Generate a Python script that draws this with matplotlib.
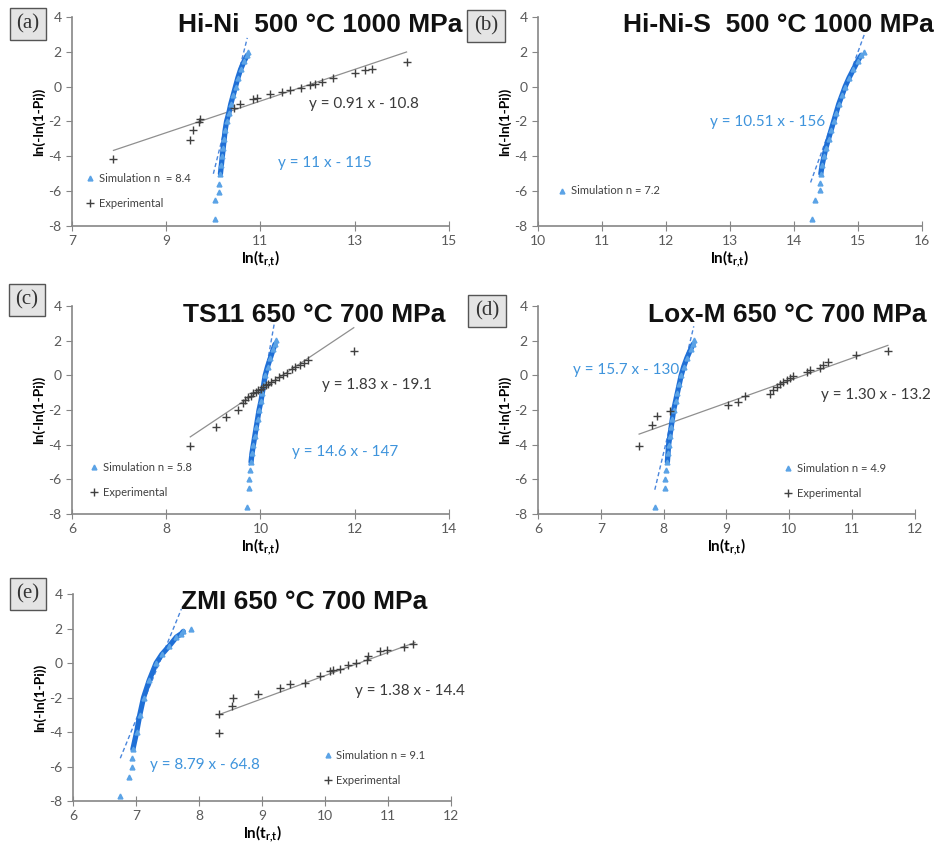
import numpy as np
import matplotlib
matplotlib.use('Agg')
import matplotlib.pyplot as plt

plt.rcParams['axes.unicode_minus'] = False

# --- data ---
# (a) Hi-Ni 500 C 1000 MPa
sim_a_x = [10.15, 10.17, 10.19, 10.21, 10.23, 10.25, 10.28, 10.33, 10.37, 10.42, 10.47, 10.52, 10.58, 10.66, 10.72]
sim_a_y = [-5.0, -4.5, -4.0, -3.5, -3.0, -2.5, -2.0, -1.5, -1.0, -0.5, 0.0, 0.5, 1.0, 1.5, 1.8]
tail_a_x = [10.04, 10.04, 10.11, 10.11, 10.74]
tail_a_y = [-7.62, -6.53, -6.05, -5.57, 2.0]
exp_a_x = [7.88, 9.51, 9.56, 9.70, 9.72, 10.43, 10.57, 10.85, 10.92, 11.20, 11.45, 11.63, 11.87,
           12.05, 12.16, 12.30, 12.54, 13.00, 13.21, 13.36, 14.10]
exp_a_y = [-4.13, -3.04, -2.47, -2.03, -1.84, -1.21, -0.98, -0.71, -0.63, -0.44, -0.33, -0.21, -0.06,
           0.08, 0.17, 0.27, 0.52, 0.78, 0.98, 1.03, 1.42]
simfit_a_x = [10.0, 10.72]
simfit_a_y = [-5.0, 2.8]
expfit_a_x = [7.88, 14.10]
expfit_a_y = [-3.66, 1.99]

# (b) Hi-Ni-S 500 C 1000 MPa
sim_b_x = [14.42, 14.44, 14.47, 14.50, 14.54, 14.58, 14.62, 14.66, 14.70, 14.75, 14.80, 14.86, 14.93, 15.00, 15.05]
sim_b_y = [-5.0, -4.5, -4.0, -3.5, -3.0, -2.5, -2.0, -1.5, -1.0, -0.5, 0.0, 0.5, 1.0, 1.5, 1.8]
tail_b_x = [14.28, 14.33, 14.40, 14.41, 15.10]
tail_b_y = [-7.62, -6.49, -5.95, -5.53, 2.0]
simfit_b_x = [14.26, 15.10]
simfit_b_y = [-5.5, 3.0]

# (c) TS11 650 C 700 MPa
sim_c_x = [9.80, 9.82, 9.85, 9.88, 9.91, 9.94, 9.97, 10.01, 10.04, 10.07, 10.10, 10.15, 10.21, 10.27, 10.31]
sim_c_y = [-5.0, -4.5, -4.0, -3.5, -3.0, -2.5, -2.0, -1.5, -1.0, -0.5, 0.0, 0.5, 1.0, 1.5, 1.8]
tail_c_x = [9.71, 9.75, 9.75, 9.78, 10.33]
tail_c_y = [-7.62, -6.48, -6.0, -5.47, 2.02]
exp_c_x = [8.51, 9.05, 9.27, 9.52, 9.62, 9.68, 9.74, 9.79, 9.84, 9.90, 9.95, 10.01, 10.06, 10.12, 10.17,
           10.22, 10.31, 10.39, 10.48, 10.57, 10.66, 10.74, 10.83, 10.92, 11.00, 11.98]
exp_c_y = [-4.08, -2.97, -2.39, -2.01, -1.58, -1.40, -1.27, -1.18, -1.02, -0.96, -0.84, -0.79, -0.66, -0.57, -0.51,
           -0.40, -0.27, -0.12, 0.02, 0.16, 0.34, 0.47, 0.59, 0.73, 0.88, 1.41]
simfit_c_x = [9.76, 10.30]
simfit_c_y = [-5.2, 3.1]
expfit_c_x = [8.51, 11.98]
expfit_c_y = [-3.55, 2.75]

# (d) Lox-M 650 C 700 MPa
sim_d_x = [8.06, 8.07, 8.08, 8.10, 8.12, 8.14, 8.16, 8.19, 8.22, 8.25, 8.28, 8.32, 8.37, 8.43, 8.47]
sim_d_y = [-5.0, -4.5, -4.0, -3.5, -3.0, -2.5, -2.0, -1.5, -1.0, -0.5, 0.0, 0.5, 1.0, 1.5, 1.8]
tail_d_x = [7.87, 8.02, 8.03, 8.04, 8.48]
tail_d_y = [-7.62, -6.48, -6.0, -5.47, 2.02]
exp_d_x = [7.61, 7.81, 7.90, 8.10, 9.03, 9.19, 9.29, 9.69, 9.74, 9.80, 9.85, 9.90, 9.96, 10.01, 10.06,
           10.28, 10.33, 10.49, 10.54, 10.62, 11.07, 11.57]
exp_d_y = [-4.06, -2.87, -2.34, -2.07, -1.72, -1.53, -1.20, -1.08, -0.85, -0.66, -0.51, -0.37, -0.24, -0.13, -0.02,
           0.20, 0.29, 0.45, 0.58, 0.77, 1.16, 1.41]
simfit_d_x = [7.86, 8.48]
simfit_d_y = [-6.6, 2.83]
expfit_d_x = [7.61, 11.57]
expfit_d_y = [-3.39, 1.73]

# (e) ZMI 650 C 700 MPa
sim_e_x = [6.95, 7.01, 7.06, 7.12, 7.21, 7.32, 7.41, 7.53, 7.64, 7.72, 7.75]
sim_e_y = [-5.0, -4.0, -3.0, -2.0, -1.0, 0.0, 0.5, 1.0, 1.5, 1.7, 1.83]
tail_e_x = [6.75, 6.89, 6.93, 6.94, 7.87]
tail_e_y = [-7.69, -6.59, -6.0, -5.52, 1.97]
exp_e_x = [8.31, 8.31, 8.52, 8.54, 8.94, 9.29, 9.44, 9.68, 9.92, 10.08, 10.13, 10.24, 10.37, 10.50,
           10.66, 10.69, 10.88, 10.98, 11.25, 11.40]
exp_e_y = [-4.07, -2.95, -2.52, -2.04, -1.79, -1.46, -1.21, -1.17, -0.74, -0.49, -0.39, -0.34, -0.10, -0.01,
           0.19, 0.38, 0.67, 0.77, 0.92, 1.12]
simfit_e_x = [6.75, 7.72]
simfit_e_y = [-5.52, 3.13]
expfit_e_x = [8.31, 11.43]
expfit_e_y = [-3.0, 1.19]

BLUE_DARK = '#1f6fd6'
BLUE = '#5ba3e6'
BLUE_TXT = '#3f94dc'
GRAY = '#868686'

fig = plt.figure(figsize=(9.4, 8.44), dpi=100)


def panel(rect, xlim, xticks, sim, tail, simfit, simlabel, exp=None, expfit=None,
          sim_eq=None, exp_eq=None, leg_anchor=(0.02, 0.05)):
    ax = fig.add_axes(rect)
    ax.set_xlim(*xlim)
    ax.set_ylim(-8, 4)
    ax.set_xticks(xticks)
    ax.set_yticks(np.arange(-8, 5, 2))
    for s in ('top', 'right'):
        ax.spines[s].set_visible(False)
    for s in ('left', 'bottom'):
        ax.spines[s].set_color(GRAY)
        ax.spines[s].set_linewidth(1.2)
    ax.tick_params(axis='x', direction='inout', length=7, color=GRAY, labelcolor='#5a5a5a',
                   labelsize=10, pad=3)
    ax.tick_params(axis='y', direction='out', length=4, color=GRAY, labelcolor='#5a5a5a',
                   labelsize=10)
    for lab in ax.get_xticklabels() + ax.get_yticklabels():
        lab.set_family('Lato')

    handles = []
    ax.plot(sim[0], sim[1], color=BLUE_DARK, lw=3.8, solid_capstyle='round', zorder=3)
    h1, = ax.plot(tail[0] + sim[0], tail[1] + sim[1], ls='none', marker='^', ms=3.5,
                  color=BLUE, mec=BLUE, zorder=3, label=simlabel)
    ax.plot(simfit[0], simfit[1], color='#4a86dc', lw=1.0, ls=(0, (3, 2)), zorder=2)
    handles.append(h1)
    if exp is not None:
        ax.plot(expfit[0], expfit[1], color='#8f8f8f', lw=0.9, zorder=1)
        h2, = ax.plot(exp[0], exp[1], ls='none', marker='+', ms=6, mew=1.0,
                      color='#404040', zorder=4, label='Experimental')
        handles.append(h2)
    if sim_eq is not None:
        ax.text(sim_eq[0], sim_eq[1], sim_eq[2], color=BLUE_TXT, fontsize=11,
                family='Lato', ha='center', va='center')
    if exp_eq is not None:
        ax.text(exp_eq[0], exp_eq[1], exp_eq[2], color='#3a3a3a', fontsize=11,
                family='Lato', ha='center', va='center')
    ax.legend(handles=handles, loc='lower left', bbox_to_anchor=leg_anchor, frameon=False,
              prop={'family': 'Lato', 'size': 8}, handlelength=0.8, handletextpad=0.4,
              labelspacing=1.3, borderaxespad=0, labelcolor='#404040')
    ax.set_ylabel('ln(-ln(1-Pi))', fontsize=10, fontweight='bold', family='Lato', labelpad=2)
    ax.set_xlabel(r'ln(t$_{\mathregular{r{,}t}}$)', fontsize=11, fontweight='bold',
                  family='Lato', labelpad=1)
    return ax


panel([0.0766, 0.7322, 0.401, 0.2477], (7, 15), [7, 9, 11, 13, 15],
      (sim_a_x, sim_a_y), (tail_a_x, tail_a_y), (simfit_a_x, simfit_a_y), 'Simulation n  = 8.4',
      exp=(exp_a_x, exp_a_y), expfit=(expfit_a_x, expfit_a_y),
      sim_eq=(12.37, -4.4, 'y = 11 x - 115'), exp_eq=(13.2, -1.0, 'y = 0.91 x - 10.8'),
      leg_anchor=(0.025, 0.06))

panel([0.5723, 0.7322, 0.4085, 0.2477], (10, 16), [10, 11, 12, 13, 14, 15, 16],
      (sim_b_x, sim_b_y), (tail_b_x, tail_b_y), (simfit_b_x, simfit_b_y), 'Simulation n = 7.2',
      sim_eq=(13.58, -2.03, 'y = 10.51 x - 156'), leg_anchor=(0.04, 0.12))

panel([0.0766, 0.391, 0.401, 0.2464], (6, 14), [6, 8, 10, 12, 14],
      (sim_c_x, sim_c_y), (tail_c_x, tail_c_y), (simfit_c_x, simfit_c_y), 'Simulation n = 5.8',
      exp=(exp_c_x, exp_c_y), expfit=(expfit_c_x, expfit_c_y),
      sim_eq=(11.8, -4.4, 'y = 14.6 x - 147'), exp_eq=(12.47, -0.57, 'y = 1.83 x - 19.1'),
      leg_anchor=(0.035, 0.055))

panel([0.5723, 0.391, 0.401, 0.2464], (6, 12), [6, 7, 8, 9, 10, 11, 12],
      (sim_d_x, sim_d_y), (tail_d_x, tail_d_y), (simfit_d_x, simfit_d_y), 'Simulation n = 4.9',
      exp=(exp_d_x, exp_d_y), expfit=(expfit_d_x, expfit_d_y),
      sim_eq=(7.4, 0.29, 'y = 15.7 x - 130'), exp_eq=(11.38, -1.15, 'y = 1.30 x - 13.2'),
      leg_anchor=(0.64, 0.05))

panel([0.0777, 0.0509, 0.402, 0.2453], (6, 12), [6, 7, 8, 9, 10, 11, 12],
      (sim_e_x, sim_e_y), (tail_e_x, tail_e_y), (simfit_e_x, simfit_e_y), 'Simulation n = 9.1',
      exp=(exp_e_x, exp_e_y), expfit=(expfit_e_x, expfit_e_y),
      sim_eq=(8.1, -5.91, 'y = 8.79 x - 64.8'), exp_eq=(11.35, -1.65, 'y = 1.38 x - 14.4'),
      leg_anchor=(0.65, 0.05))

# panel titles
titles = ['Hi-Ni  500 °C 1000 MPa', 'Hi-Ni-S  500 °C 1000 MPa', 'TS11 650 °C 700 MPa',
          'Lox-M 650 °C 700 MPa', 'ZMI 650 °C 700 MPa']
title_pos = [(0.341, 0.970), (0.828, 0.970), (0.334, 0.627), (0.837, 0.627), (0.324, 0.287)]
for t, (x, y) in zip(titles, title_pos):
    fig.text(x, y, t, fontsize=19, fontweight='bold', family='Liberation Sans',
             ha='center', va='center', color='#111111')

# panel letters
letters = ['(a)', '(b)', '(c)', '(d)', '(e)']
letter_pos = [(0.0298, 0.9716), (0.517, 0.969), (0.0287, 0.6445), (0.518, 0.6315), (0.0298, 0.2962)]
for t, (x, y) in zip(letters, letter_pos):
    fig.text(x, y, t, fontsize=15, family='Liberation Serif', ha='center', va='center',
             color='#333333',
             bbox=dict(boxstyle='square,pad=0.32', facecolor='#e4e4e4', edgecolor='#555555', lw=1))

fig.savefig('out.png', dpi=100)
